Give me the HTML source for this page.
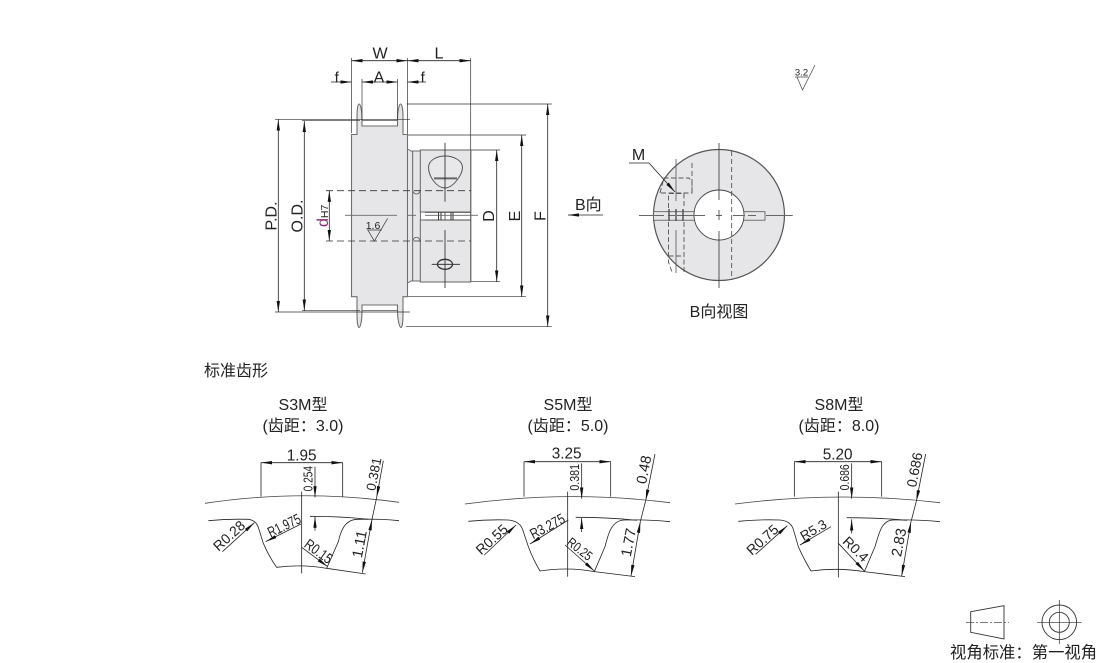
<!DOCTYPE html>
<html lang="zh"><head><meta charset="utf-8"><title>Diagram</title>
<style>
html,body{margin:0;padding:0;background:#fff;width:1110px;height:663px;overflow:hidden}
svg{display:block}
text{font-family:"Liberation Sans","Noto Sans CJK SC",sans-serif;fill:#222}
</style></head><body>
<svg width="1110" height="663" viewBox="0 0 1110 663" xmlns="http://www.w3.org/2000/svg">
<defs>
<marker id="a" viewBox="0 0 10 3" refX="10" refY="1.5" markerWidth="14" markerHeight="4.2" orient="auto-start-reverse" markerUnits="strokeWidth"><path d="M0 0L10 1.5L0 3z" fill="#111"/></marker>
</defs>

<!-- main pulley -->
<path d="M351.5 134.5H357V118C357 108 358 104 359 104C360.5 104 362 110 362 120V126H397.5V120C397.5 110 399.5 104 400.5 104C402 104 403 110 403 118V134.5H407.5V296.7H403V313C403 323 402 327.5 401 327.5C399.5 327.5 397.5 320 397.5 311V305H362V311C362 320 360.5 327.5 359 327.5C358 327.5 357 323 357 313V296.7H351.5Z" fill="#e6e6e8" stroke="#6f6f6f" stroke-width="1.1"/>
<path d="M362 120.5H397.5M362 310.5H397.5" fill="none" stroke="#555" stroke-width=".8"/>
<path d="M407.5 149L411 151H420.5V281H411L407.5 283Z" fill="#e6e6e8" stroke="#6f6f6f" stroke-width="1"/>
<path d="M412.7 151V281" stroke="#555" stroke-width=".9"/>
<rect x="420.3" y="150" width="50.4" height="62" fill="#e6e6e8" stroke="#666" stroke-width="1"/>
<rect x="420.3" y="220" width="50.4" height="62" fill="#e6e6e8" stroke="#666" stroke-width="1"/>
<path d="M470.7 150V282" stroke="#777" stroke-width="1.4"/>
<path d="M413 191C414 195 419 195 420 191M413 241C414 236 419 236 420 241" fill="none" stroke="#555" stroke-width=".8"/>
<!-- teardrop -->
<path d="M428.5 167C429 160 437 156 445 156C453 156 462 160 462.5 167C462.5 175 453 188 445 188C437 188 428.5 177 428.5 167Z" fill="#e8e8ea" stroke="#555" stroke-width="1"/>
<path d="M434 178.4H457" stroke="#666" stroke-width="2"/>
<path d="M445 142.7V201.7M445 230V288M431.7 264.3H460" stroke="#222" stroke-width=".8" fill="none"/>
<ellipse cx="445" cy="264.3" rx="7.5" ry="5" fill="none" stroke="#333" stroke-width="1.3"/>
<!-- slit -->
<path d="M438.5 212V220M441 212V220M451 212V220M453 212V220" stroke="#333" stroke-width="1"/>
<path d="M445 212V220" stroke="#333" stroke-width=".7"/>
<path d="M425 212.3H471M425 220H471" stroke="#444" stroke-width=".8"/>
<!-- center line and dashes -->
<path d="M345 215.3H397M407 215.3H416M425 215.3H478" stroke="#666" stroke-width=".9"/>
<path d="M326 190.7H471M326 241H471" stroke="#333" stroke-width=".8" stroke-dasharray="7 4"/>

<!-- extension lines -->
<g stroke="#333" stroke-width=".7" fill="none">
<path d="M351.5 58V133M407.5 58V134M470.7 58V150"/>
<path d="M362 79V120M397.5 79V120"/>
<path d="M275 119.3H410M275 312H410M302 120.7H360M302 310.7H360"/>
<path d="M406.7 104H551.7M406 326.7H551.7"/>
<path d="M408 135H526M408 296.7H526"/>
<path d="M471 150H500M471 281.7H500"/>
</g>
<g stroke="#222" stroke-width=".8" fill="none" marker-start="url(#a)" marker-end="url(#a)">
<line x1="351.5" y1="60.7" x2="407.5" y2="60.7"/>
<line x1="407.5" y1="60.7" x2="470.7" y2="60.7"/>
<line x1="362" y1="82" x2="397.5" y2="82"/>
<line x1="278.3" y1="119.5" x2="278.3" y2="312"/>
<line x1="304.3" y1="121" x2="304.3" y2="310.7"/>
<line x1="329.3" y1="190.7" x2="329.3" y2="241"/>
<line x1="496.7" y1="150" x2="496.7" y2="281.7"/>
<line x1="521.7" y1="135" x2="521.7" y2="296.7"/>
<line x1="547.7" y1="104" x2="547.7" y2="326.7"/>
</g>
<g stroke="#222" stroke-width=".8" fill="none">
<path d="M331 82H351.5" marker-end="url(#a)"/>
<path d="M426 82H407.5" marker-end="url(#a)"/>
<path d="M603 215H568" marker-end="url(#a)"/>
</g>
<!-- 1.6 symbol -->
<path d="M367 230H381.7M368.3 230.7L374.3 241L387.7 218.3" fill="none" stroke="#333" stroke-width=".7"/>
<text x="373" y="229" font-size="10.5" text-anchor="middle">1.6</text>
<!-- 3.2 symbol -->
<path d="M795 77H808M797 77L802.5 90L815 65" fill="none" stroke="#444" stroke-width=".7"/>
<text x="801.5" y="75.5" font-size="9.5" text-anchor="middle">3.2</text>

<g font-size="16">
<text x="380" y="58.3" text-anchor="middle">W</text>
<text x="439" y="58.3" text-anchor="middle">L</text>
<text x="336.7" y="82.7" text-anchor="middle" font-size="15">f</text>
<text x="379" y="82.7" text-anchor="middle">A</text>
<text x="422.7" y="82.7" text-anchor="middle" font-size="15">f</text>
<text transform="translate(276.7 216) rotate(-90)" text-anchor="middle">P.D.</text>
<text transform="translate(302.3 216) rotate(-90)" text-anchor="middle">O.D.</text>
<text transform="translate(328 227) rotate(-90)"><tspan style="fill:#8a2d78">d</tspan><tspan font-size="10.5">H7</tspan></text>
<text transform="translate(494 216) rotate(-90)" text-anchor="middle">D</text>
<text transform="translate(520 216) rotate(-90)" text-anchor="middle">E</text>
<text transform="translate(545.3 216) rotate(-90)" text-anchor="middle">F</text>
<text x="575" y="210">B向</text>
<text x="719" y="317" text-anchor="middle">B向视图</text>
<text x="638.5" y="160" text-anchor="middle">M</text>
<text x="204" y="376">标准齿形</text>
<text x="303" y="410" text-anchor="middle">S3M型</text>
<text x="303" y="431" text-anchor="middle">(齿距：3.0)</text>
<text x="568" y="410" text-anchor="middle">S5M型</text>
<text x="568" y="431" text-anchor="middle">(齿距：5.0)</text>
<text x="839" y="410" text-anchor="middle">S8M型</text>
<text x="839" y="431" text-anchor="middle">(齿距：8.0)</text>
<text x="950" y="658" font-size="16.35">视角标准：第一视角</text>
</g>

<!-- end view -->
<circle cx="719" cy="215" r="65.5" fill="#e6e6e8" stroke="#555" stroke-width="1.2"/>
<rect x="653.5" y="211.7" width="41" height="8.5" fill="#e6e6e8" stroke="#555" stroke-width=".8"/>
<rect x="743" y="211.7" width="22" height="8.5" fill="#e6e6e8" stroke="#555" stroke-width=".8"/>
<circle cx="719" cy="215" r="25" fill="#fff" stroke="#444" stroke-width=".9"/>
<path d="M639 215.5H664M668 215.5H675M677 215.5H705M716 215.5H722M733 215.5H745M748 215.5H756M766 215.5H792.7" stroke="#666" stroke-width=".9"/>
<path d="M719 143V200M719 210V220M719 231V288" stroke="#333" stroke-width=".8"/>
<path d="M731.7 151V280M692 163V193" stroke="#444" stroke-width=".8" stroke-dasharray="5 3" fill="none"/>
<path d="M660 193L664 178H689L692 182V193H660M668.5 208V193.5H684V208M668.5 222V262L672 272M684 222V272M668.5 256H684" stroke="#555" stroke-width=".9" stroke-dasharray="5 2.5" fill="none"/>
<path d="M669 209V221M676 209V221M683 209V221" stroke="#444" stroke-width="1.3"/>
<path d="M676 159V201M676 230V273" stroke="#555" stroke-width=".8"/>
<path d="M629 163H649L675 192" fill="none" stroke="#222" stroke-width=".8" marker-end="url(#a)"/>

<!-- legend -->
<path d="M970.7 611.7L1004 605.7V639L970.7 632.3Z" fill="none" stroke="#333" stroke-width=".9"/>
<path d="M966 622.3H1009" stroke="#333" stroke-width=".7" stroke-dasharray="8 2 2 2"/>
<circle cx="1059.3" cy="622.3" r="17.3" fill="none" stroke="#333" stroke-width=".9"/>
<circle cx="1059.3" cy="622.3" r="10" fill="none" stroke="#333" stroke-width=".9"/>
<path d="M1037 622.3H1081.7M1059.3 600V644" stroke="#333" stroke-width=".7"/>

<!-- profile 1 -->
<g transform="translate(195 440) scale(.33333)" fill="none" stroke="#222" stroke-width="2.4">
<path d="M30 190Q320 146 612 187" stroke="#444"/>
<path d="M40 242Q100 236 160 238C175 240 185 248 190 262L205 310Q222 350 245 382Q320 372 395 385L430 305C438 270 450 238 490 238Q560 236 612 242"/>
<path d="M198 170V68M443 170V68M320 155V400M395 385L512 402"/>
<path d="M345 229Q440 229 520 238"/>
<path d="M198 68H443" marker-start="url(#a)" marker-end="url(#a)"/>
<path d="M360 80V172" marker-end="url(#a)"/>
<path d="M360 272V230" marker-end="url(#a)"/>
<path d="M565 62L545 172" marker-end="url(#a)"/>
<path d="M545 172L531 238" />
<path d="M531 238L502 398" marker-start="url(#a)" marker-end="url(#a)"/>
<path d="M82 335L178 248" marker-end="url(#a)"/>
<path d="M318 252L212 305" marker-end="url(#a)"/>
<path d="M320 322L398 380" marker-end="url(#a)"/>
<g stroke="none">
<text x="320" y="62" font-size="46" text-anchor="middle">1.95</text>
<text transform="translate(352 116) rotate(-90)" font-size="40" text-anchor="middle" textLength="76" lengthAdjust="spacingAndGlyphs">0.254</text>
<text transform="translate(550 105) rotate(-79)" font-size="40" text-anchor="middle">0.381</text>
<text transform="translate(508 315) rotate(-79)" font-size="44" text-anchor="middle">1.11</text>
<text transform="translate(112 298) rotate(-42)" font-size="42" text-anchor="middle">R0.28</text>
<text transform="translate(274 270) rotate(-26)" font-size="44" text-anchor="middle" textLength="105" lengthAdjust="spacingAndGlyphs">R1.975</text>
<text transform="translate(362 346) rotate(36)" font-size="44" text-anchor="middle" textLength="92" lengthAdjust="spacingAndGlyphs">R0.15</text>
</g>
</g>

<!-- profile 2 -->
<g transform="translate(455 440) scale(.33333)" fill="none" stroke="#222" stroke-width="2.4">
<path d="M30 192Q340 150 645 188" stroke="#444"/>
<path d="M40 244Q100 238 160 240C185 242 200 255 205 275L220 320Q235 360 255 393Q340 380 418 395L450 320C460 280 470 240 510 240Q580 238 645 245"/>
<path d="M207 170V65M467 170V65M338 155V410M418 395L540 410"/>
<path d="M362 232Q460 232 545 241"/>
<path d="M207 65H467" marker-start="url(#a)" marker-end="url(#a)"/>
<path d="M380 70V176" marker-end="url(#a)"/>
<path d="M380 276V234" marker-end="url(#a)"/>
<path d="M600 42L572 182" marker-end="url(#a)"/>
<path d="M572 182L556 245"/>
<path d="M556 245L528 408" marker-start="url(#a)" marker-end="url(#a)"/>
<path d="M88 345L183 255" marker-end="url(#a)"/>
<path d="M340 240L225 312" marker-end="url(#a)"/>
<path d="M330 315L418 393" marker-end="url(#a)"/>
<g stroke="none">
<text x="335" y="56" font-size="46" text-anchor="middle">3.25</text>
<text transform="translate(372 112) rotate(-90)" font-size="40" text-anchor="middle" textLength="80" lengthAdjust="spacingAndGlyphs">0.381</text>
<text transform="translate(581 92) rotate(-79)" font-size="44" text-anchor="middle">0.48</text>
<text transform="translate(535 310) rotate(-79)" font-size="44" text-anchor="middle">1.77</text>
<text transform="translate(120 309) rotate(-42)" font-size="42" text-anchor="middle">R0.55</text>
<text transform="translate(284 272) rotate(-28)" font-size="44" text-anchor="middle" textLength="112" lengthAdjust="spacingAndGlyphs">R3.275</text>
<text transform="translate(366 338) rotate(38)" font-size="40" text-anchor="middle" textLength="84" lengthAdjust="spacingAndGlyphs">R0.25</text>
</g>
</g>

<!-- profile 3 -->
<g transform="translate(725 440) scale(.33333)" fill="none" stroke="#222" stroke-width="2.4">
<path d="M30 192Q340 152 645 188" stroke="#444"/>
<path d="M40 244Q100 238 165 240C190 242 203 255 207 275L220 320Q238 360 258 393Q340 382 418 395L450 320C462 280 470 240 505 240Q580 238 645 245"/>
<path d="M208 170V65M470 170V65M340 155V412M418 395L540 410"/>
<path d="M365 233Q460 233 545 241"/>
<path d="M208 65H470" marker-start="url(#a)" marker-end="url(#a)"/>
<path d="M380 70V176" marker-end="url(#a)"/>
<path d="M380 280V238" marker-end="url(#a)"/>
<path d="M602 42L574 184" marker-end="url(#a)"/>
<path d="M574 184L558 245"/>
<path d="M558 245L530 408" marker-start="url(#a)" marker-end="url(#a)"/>
<path d="M92 343L187 257" marker-end="url(#a)"/>
<path d="M318 260L225 315" marker-end="url(#a)"/>
<path d="M340 310L418 393" marker-end="url(#a)"/>
<g stroke="none">
<text x="338" y="58" font-size="46" text-anchor="middle">5.20</text>
<text transform="translate(372 112) rotate(-90)" font-size="40" text-anchor="middle" textLength="78" lengthAdjust="spacingAndGlyphs">0.686</text>
<text transform="translate(583 92) rotate(-79)" font-size="42" text-anchor="middle">0.686</text>
<text transform="translate(536 310) rotate(-79)" font-size="44" text-anchor="middle">2.83</text>
<text transform="translate(122 310) rotate(-42)" font-size="42" text-anchor="middle">R0.75</text>
<text transform="translate(272 282) rotate(-30)" font-size="40" text-anchor="middle">R5.3</text>
<text transform="translate(382 338) rotate(44)" font-size="42" text-anchor="middle">R0.4</text>
</g>
</g>
</svg>
</body></html>
